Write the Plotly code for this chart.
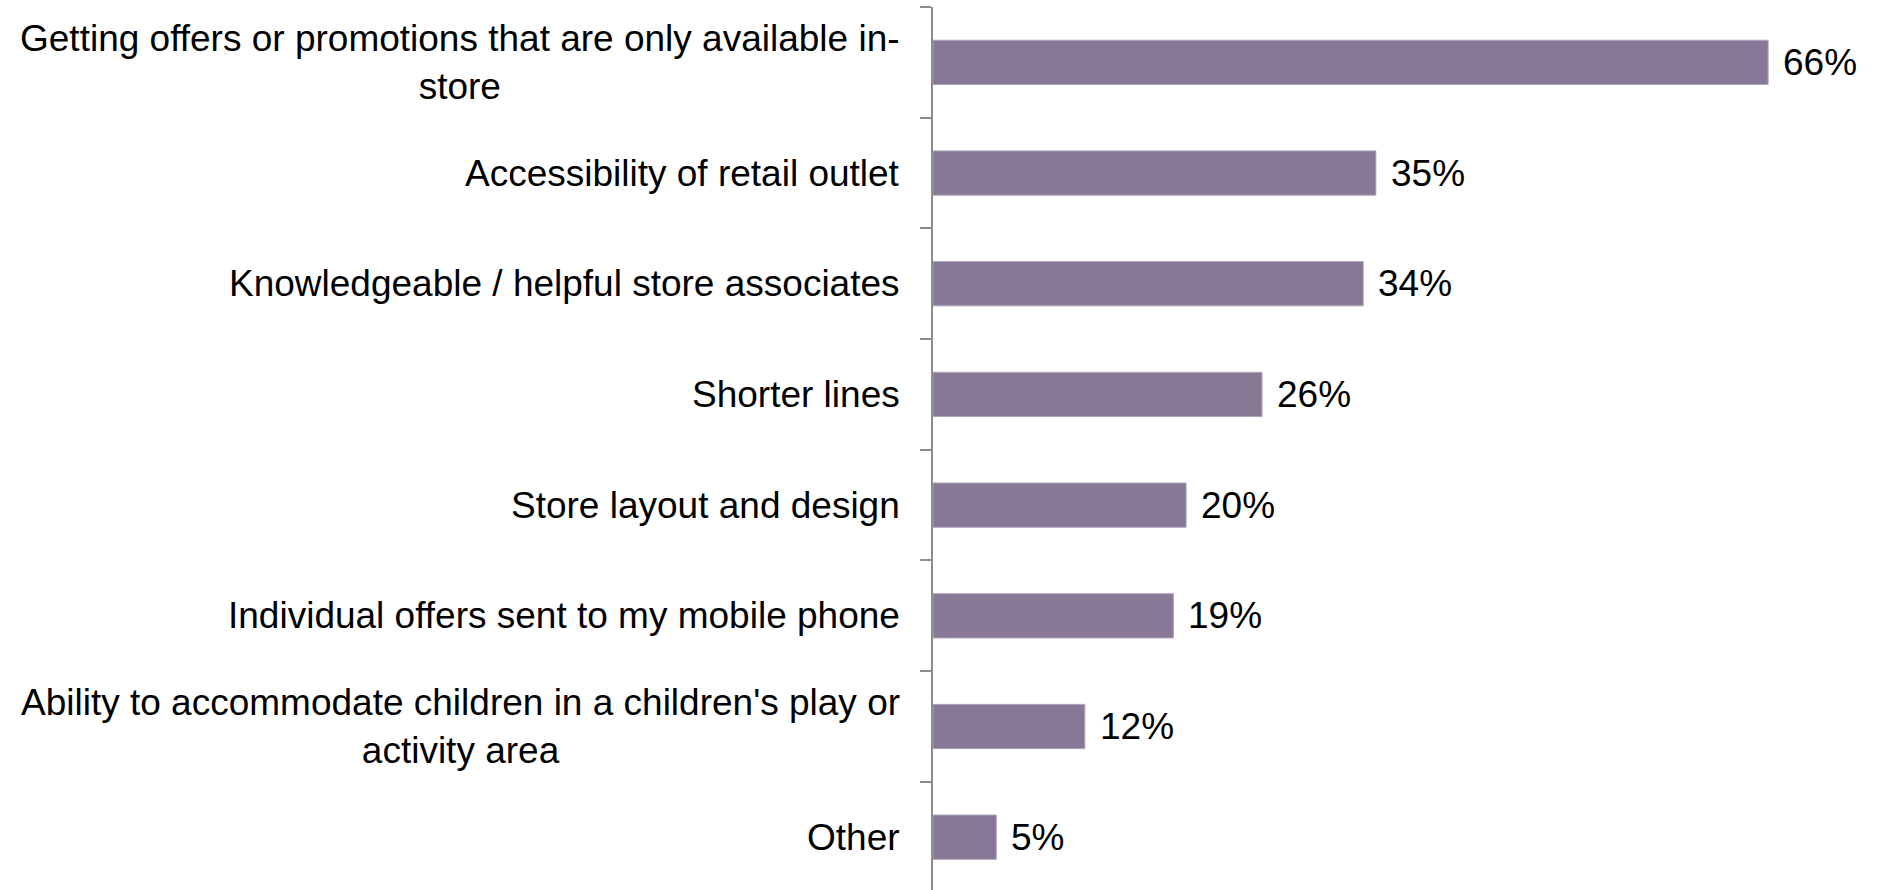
import plotly.graph_objects as go

# Survey responses, top to bottom
categories = [
    "Getting offers or promotions that are only available in-<br>store",
    "Accessibility of retail outlet",
    "Knowledgeable / helpful store associates",
    "Shorter lines",
    "Store layout and design",
    "Individual offers sent to my mobile phone",
    "Ability to accommodate children in a children's play or<br>activity area",
    "Other",
]
values = [66, 35, 34, 26, 20, 19, 12, 5]
value_labels = [f"{v}%" for v in values]

FONT = "Liberation Sans, Arial, sans-serif"
BAR_COLOR = "#877896"
positions = list(range(len(categories)))

fig = go.Figure(
    go.Bar(
        x=values,
        y=positions,
        orientation="h",
        marker=dict(color=BAR_COLOR, line=dict(color="#ada3bb", width=1)),
        hoverinfo="skip",
    )
)

annotations = []
# Category labels, centered multi-line text to the left of the axis
for pos, label in zip(positions, categories):
    annotations.append(dict(
        x=0, y=pos, xref="x", yref="y", text=label, showarrow=False,
        xanchor="right", yanchor="middle", align="center", xshift=-31,
        font=dict(family=FONT, size=37, color="#000000"),
    ))
# Value labels at the end of each bar
for pos, v, t in zip(positions, values, value_labels):
    annotations.append(dict(
        x=v, y=pos, xref="x", yref="y", text=t, showarrow=False,
        xanchor="left", yanchor="middle", xshift=13,
        font=dict(family=FONT, size=37, color="#000000"),
    ))

boundaries = [p - 0.5 for p in positions] + [positions[-1] + 0.5]

fig.update_layout(
    width=1882, height=890,
    margin=dict(l=933, r=0, t=7, b=0),
    paper_bgcolor="white", plot_bgcolor="white",
    bargap=0.6,
    showlegend=False,
    annotations=annotations,
    xaxis=dict(range=[0, 75], visible=False, fixedrange=True),
    yaxis=dict(
        range=[len(categories) - 0.523, -0.5],
        tickmode="array", tickvals=boundaries, ticktext=[""] * len(boundaries),
        ticks="outside", ticklen=11, tickcolor="#8c8c8c", tickwidth=1.5,
        showline=True, linecolor="#8c8c8c", linewidth=1.5,
        showgrid=False, zeroline=False, fixedrange=True,
    ),
)

fig.write_html("out.html")
